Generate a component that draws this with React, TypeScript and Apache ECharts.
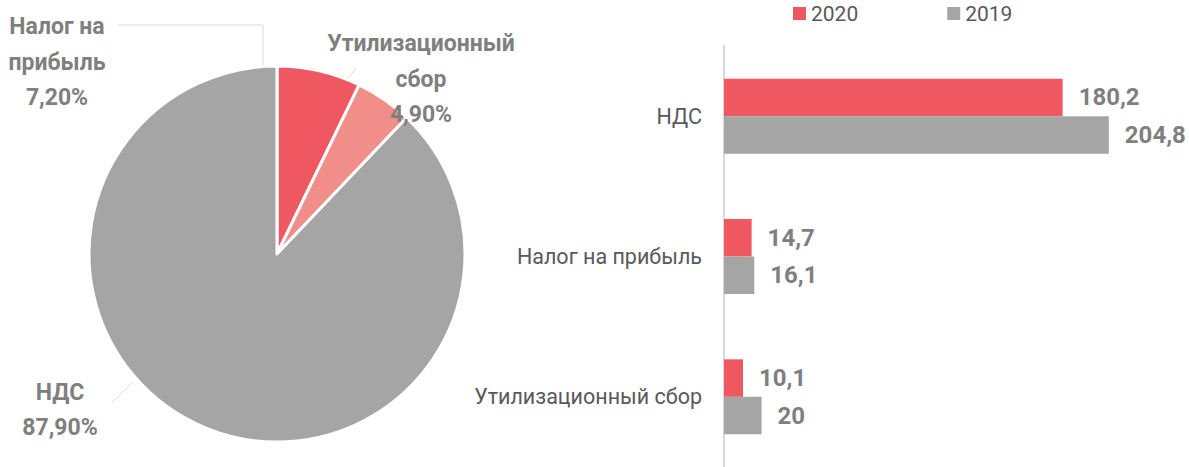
import React, { useEffect, useRef } from "react";
import * as echarts from "echarts";

const pieNames = ["Налог на прибыль", "Утилизационный сбор", "НДС"];
const pieLabelNames = ["Налог на\nприбыль", "Утилизационный\nсбор", "НДС"];
const pieShares = [7.2, 4.9, 87.9];
const pieColors = ["#EF5860", "#F28E89", "#A5A5A5"];

const barCategories = ["НДС", "Налог на прибыль", "Утилизационный сбор"];
const values2020 = [180.2, 14.7, 10.1];
const values2019 = [204.8, 16.1, 20];
const seriesNames = ["2020", "2019"];
const barColors = ["#EF5860", "#A5A5A5"];

// label placement and leader lines (layout only)
const pieLabelPos = [
  { x: 57, y: 62 },
  { x: 421, y: 79 },
  { x: 60, y: 410 },
];
const leaderLines = [
  [[263, 68], [263, 25], [118, 25]],
  [[331, 100], [356, 68]],
  [[133, 382], [112, 403]],
];

const fmt = (v: number, d: number) => v.toFixed(d).replace(".", ",");

export default function App() {
  const ref = useRef<HTMLDivElement>(null);
  useEffect(() => {
    if (!ref.current) return;
    const chart = echarts.init(ref.current, undefined, { renderer: "svg" });
    chart.setOption({
      animation: false,
      textStyle: { fontFamily: "Roboto" },
      legend: {
        data: seriesNames,
        top: -2,
        left: 788,
        itemWidth: 13,
        itemHeight: 13,
        itemGap: 89,
        icon: "rect",
        textStyle: { color: "#595959", fontSize: 21, fontFamily: "Roboto" },
      },
      grid: { left: 724, right: 14, top: 46, bottom: -6, containLabel: false },
      xAxis: {
        type: "value",
        min: 0,
        max: 240,
        show: false,
      },
      yAxis: {
        type: "category",
        data: barCategories,
        inverse: true,
        axisTick: { show: false },
        axisLine: { show: true, lineStyle: { color: "#D9D9D9", width: 2 } },
        axisLabel: { margin: 22, color: "#595959", fontSize: 21.5, fontFamily: "Roboto" },
      },
      graphic: leaderLines.map((pts) => ({
        type: "polyline",
        silent: true,
        z: 1,
        shape: { points: pts },
        style: { stroke: "#D9D9D9", lineWidth: 1, fill: "none" },
      })),
      series: [
        {
          type: "pie",
          center: [277, 254],
          radius: 188,
          startAngle: 90,
          clockwise: true,
          data: pieNames.map((n, i) => ({
            name: n,
            value: pieShares[i],
            itemStyle: { color: pieColors[i] },
          })),
          itemStyle: { borderColor: "#ffffff", borderWidth: 3 },
          label: {
            show: true,
            position: "outside",
            formatter: (p: any) => pieLabelNames[p.dataIndex] + "\n" + fmt(p.value, 2) + "%",
            color: "#7F7F7F",
            fontWeight: "bold",
            fontSize: 23,
            lineHeight: 35.5,
            align: "center",
            fontFamily: "Roboto",
          },
          labelLine: { show: false },
          labelLayout: (params: any) => {
            const pos = pieLabelPos[params.dataIndex];
            return {
              x: pos.x,
              y: pos.y,
              align: "center",
              verticalAlign: "middle",
            };
          },
          emphasis: { disabled: true },
        },
        ...seriesNames.map((name, si) => ({
          type: "bar",
          name,
          data: si === 0 ? values2020 : values2019,
          barWidth: 37.5,
          barGap: "0%",
          itemStyle: { color: barColors[si] },
          label: {
            show: true,
            position: "right",
            distance: 16,
            formatter: (p: any) => fmt(p.value, p.value % 1 === 0 ? 0 : 1),
            color: "#7F7F7F",
            fontWeight: "bold",
            fontSize: 24,
            fontFamily: "Roboto",
          },
          emphasis: { disabled: true },
        })),
      ],
    });
    return () => chart.dispose();
  }, []);
  return (
    <div
      ref={ref}
      style={{ position: "fixed", left: 0, top: 0, width: 1189, height: 467, background: "#fff" }}
    />
  );
}
